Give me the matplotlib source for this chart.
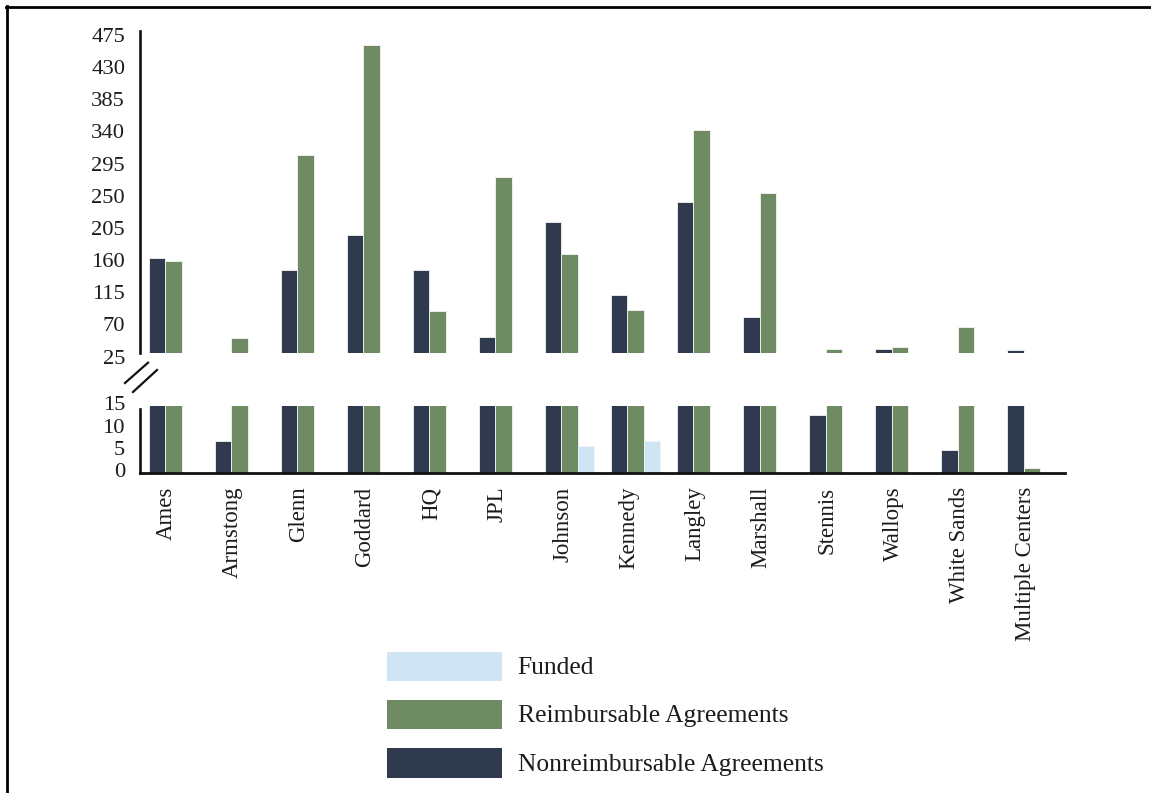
import matplotlib
matplotlib.use("Agg")
import matplotlib.pyplot as plt
import numpy as np
from matplotlib.patches import Rectangle
from matplotlib.lines import Line2D
from matplotlib.transforms import ScaledTranslation

categories = ["Ames", "Armstong", "Glenn", "Goddard", "HQ", "JPL", "Johnson",
              "Kennedy", "Langley", "Marshall", "Stennis", "Wallops",
              "White Sands", "Multiple Centers"]
nonreimbursable = [157, 7, 141, 189, 141, 47, 207, 106, 236, 75, 13, 30, 5, 29]
reimbursable = [153, 45, 302, 456, 83, 270, 163, 84, 336, 248, 30, 32, 61, 1]
funded = [0, 0, 0, 0, 0, 0, 6, 7, 0, 0, 0, 0, 0, 0]

series_names = ["Nonreimbursable Agreements", "Reimbursable Agreements", "Funded"]
series_colors = ["#2F3A4F", "#6E8B63", "#CFE5F4"]
series_values = [nonreimbursable, reimbursable, funded]

top_ticks = [25, 70, 115, 160, 205, 250, 295, 340, 385, 430, 475]
bottom_ticks = [0, 5, 10, 15]

W, H = 1151, 793
fig = plt.figure(figsize=(W / 100, H / 100), dpi=100)
fig.patch.set_facecolor("white")

FONT = "Liberation Serif"
TXT = "#1c1c1c"

def fx(px):
    return px / W

def fy(py):
    return 1 - py / H

left, right = 140.3, 1065
ax_top = fig.add_axes([fx(left), fy(352.5), fx(right) - fx(left), fy(31) - fy(352.5)])
ax_bot = fig.add_axes([fx(left), fy(472.5), fx(right) - fx(left), fy(406) - fy(472.5)])

x = np.arange(len(categories))
width = 0.25
offsets = [-width, 0, width]

for ax in (ax_top, ax_bot):
    for vals, col, off in zip(series_values, series_colors, offsets):
        ax.bar(x + off, vals, width=width, color=col, edgecolor="#f4f4f4",
               linewidth=0.6, zorder=2)
    ax.set_xlim(-0.5, len(categories) - 0.5)
    ax.set_facecolor("none")
    for s in ("top", "right"):
        ax.spines[s].set_visible(False)
    ax.spines["left"].set_linewidth(1.9)
    ax.spines["left"].set_color("#111111")
    ax.tick_params(axis="y", length=0, pad=11, labelsize=16.2, labelcolor=TXT)

ax_top.set_ylim(25, 475)
ax_top.set_yticks(top_ticks)
ax_top.set_yticklabels([str(t) for t in top_ticks], fontfamily=FONT)
ax_top.spines["bottom"].set_visible(False)
ax_top.set_xticks([])
off_top = ScaledTranslation(0, -4 / 100, fig.dpi_scale_trans)
for lab in ax_top.get_yticklabels():
    lab.set_transform(lab.get_transform() + off_top)

ax_bot.set_ylim(0, 15)
ax_bot.set_yticks(bottom_ticks)
ax_bot.set_yticklabels([str(t) for t in bottom_ticks], fontfamily=FONT)
off_bot = ScaledTranslation(0, 2.5 / 100, fig.dpi_scale_trans)
for lab in ax_bot.get_yticklabels():
    lab.set_transform(lab.get_transform() + off_bot)
ax_bot.spines["bottom"].set_linewidth(2.0)
ax_bot.spines["bottom"].set_color("#111111")
ax_bot.spines["left"].set_bounds(0, 14.4)
ax_bot.set_xticks(x - 0.1)
ax_bot.set_xticklabels(categories, rotation=90, fontfamily=FONT, fontsize=16.5,
                       color=TXT, va="top", ha="center")
ax_bot.tick_params(axis="x", length=0, pad=10)

# break marks
for (x0, y0, x1, y1) in [(125, 383, 148, 362.7), (133, 392, 157, 370)]:
    fig.add_artist(Line2D([fx(x0), fx(x1)], [fy(y0), fy(y1)], color="#111111",
                          linewidth=1.6, transform=fig.transFigure))

# legend (manual, order: Funded, Reimbursable, Nonreimbursable)
legend_rows = [(2, 651.7, 681), (1, 700, 729.3), (0, 748.3, 777.7)]
for idx, y0, y1 in legend_rows:
    fig.add_artist(Rectangle((fx(387.3), fy(y1)), fx(502.3) - fx(387.3),
                             fy(y0) - fy(y1), transform=fig.transFigure,
                             facecolor=series_colors[idx], edgecolor="none"))
    fig.text(fx(517.7), fy((y0 + y1) / 2 + 1.5), series_names[idx],
             fontfamily=FONT, fontsize=18.4, color=TXT, va="center", ha="left")

# frame lines (top and left)
fig.add_artist(Line2D([fx(5.5), 1], [fy(6.5), fy(6.5)], color="black",
                      linewidth=2.0, transform=fig.transFigure))
fig.add_artist(Line2D([fx(6.5), fx(6.5)], [fy(5.5), 0], color="black",
                      linewidth=2.0, transform=fig.transFigure))

fig.savefig("out.png", dpi=100, facecolor="white")
